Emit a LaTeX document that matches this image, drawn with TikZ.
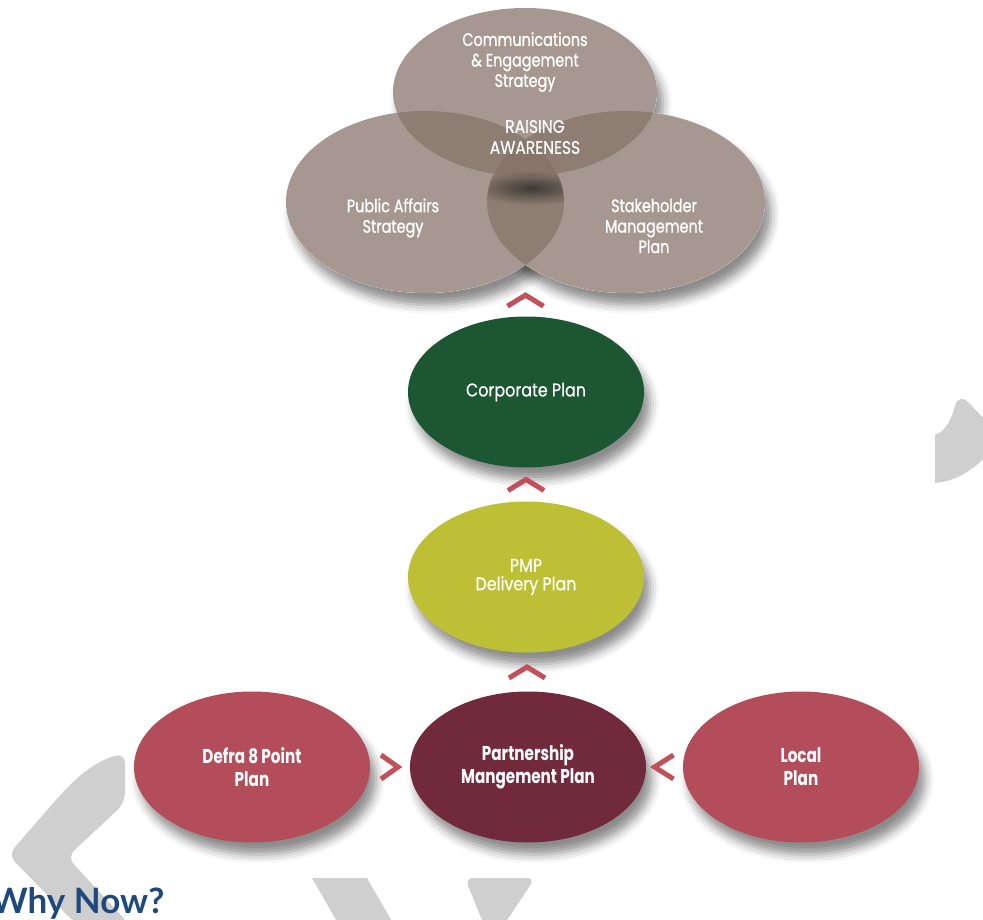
\documentclass[tikz,border=0pt]{standalone}
\usepackage{fontspec}
\setmainfont{Poppins}
\newfontfamily\condfont[FakeStretch=0.76]{Poppins}
\newfontfamily\triofont[FakeStretch=0.8, FakeBold=1]{Poppins}
\newfontfamily\midfont[FakeStretch=0.86, FakeBold=0.5]{Poppins}
\newfontfamily\headfont{Lato}
\usetikzlibrary{
    shapes.geometric,
    calc,
    shadows.blur,
    fadings
}
\definecolor{triobrown}{RGB}{133,115,104}
\definecolor{corpgreen}{RGB}{29,86,50}
\definecolor{pmpyellow}{RGB}{189,192,52}
\definecolor{defrared}{RGB}{178,77,89}
\definecolor{partnerred}{RGB}{113,42,60}
\definecolor{chevred}{RGB}{192,80,90}
\definecolor{backgray}{RGB}{207,207,207}
\definecolor{whyblue}{RGB}{31,73,125}
\tikzfading[name=softblob, inner color=transparent!0, outer color=transparent!100]

\begin{document}
\begin{tikzpicture}[x=1pt, y=-1pt,
        shade/.style={blur shadow={shadow xshift=6pt, shadow yshift=-12pt,
                      shadow blur radius=9pt, shadow opacity=45}},
        plan/.style={ellipse, minimum width=236pt, minimum height=151pt, inner sep=0pt,
                     text=white, align=center, shade},
        trio/.style={fill=triobrown, fill opacity=0.73},
        triotext/.style={text=white, align=center, inner sep=0pt,
                         font=\triofont\fontsize{18}{20.5}\selectfont},
        midtext/.style={font=\midfont\fontsize{18.5}{18.5}\selectfont},
        condtext/.style={font=\condfont\bfseries\fontsize{20}{23}\selectfont},
        chev/.style={chevred, line width=5pt, line join=miter},
    ]
        \useasboundingbox (0,0) rectangle (983,920);
        \clip (0,0) rectangle (983,920);

        % Background shapes
        \fill[backgray, rounded corners=10pt] (125,753) .. controls (100,760) and (85,770) .. (62,793)
            -- (8,855) -- (77,925) -- (130,925) -- (67,857) -- (125,803) -- cycle;
        \fill[backgray] (312,878) -- (367,878) -- (394,925) -- (339,925) -- cycle;
        \fill[backgray, rounded corners=8pt] (465,878) -- (535,878) -- (504,925) -- (484,925) -- cycle;
        \fill[backgray] (935,435) .. controls (948,430) and (952,416) .. (955,406)
            .. controls (957,398) and (963,397) .. (968,402) -- (990,425) -- (990,452)
            .. controls (972,472) and (955,481) .. (935,483) -- cycle;

        % Raising awareness
        \coordinate (comms) at (525,92);
        \coordinate (pubaff) at (425,202);
        \coordinate (stake) at (626,202);
        \fill[white, shade] (comms) ellipse (132 and 84);
        \fill[white, shade] (pubaff) ellipse (139 and 91);
        \fill[white, shade] (stake) ellipse (139 and 91);
        \fill[white] (comms) ellipse (132 and 84);
        \fill[white] (pubaff) ellipse (139 and 91);
        \fill[white] (stake) ellipse (139 and 91);
        \fill[trio] (comms) ellipse (132 and 84);
        \fill[trio] (pubaff) ellipse (139 and 91);
        \fill[trio] (stake) ellipse (139 and 91);
        \begin{scope}
            \clip (pubaff) ellipse (139 and 91);
            \clip (stake) ellipse (139 and 91);
            \fill[black, opacity=0.55, path fading=softblob] (532,188) ellipse (62 and 17);
        \end{scope}
        \node[triotext] (commstext) at (525,62) {Communications\\\& Engagement\\Strategy};
        \node[triotext, midtext, font=\midfont\fontsize{18}{21}\selectfont] (raise) at (535,137) {RAISING\\AWARENESS};
        \node[triotext] (pubafftext) at (393,218) {Public Affairs\\Strategy};
        \node[triotext] (staketext) at (654,226) {Stakeholder\\Management\\Plan};
        \coordinate (trio) at (525,284);

        % Plans
        \node[plan, fill=corpgreen, midtext] (corp) at (526,392) {Corporate Plan};
        \node[plan, fill=pmpyellow, midtext] (pmp) at (526,577) {PMP\\Delivery Plan};
        \node[plan, fill=defrared, condtext] (defra) at (252,767) {Defra 8 Point\\Plan};
        \node[plan, fill=partnerred, condtext] (partner) at (528,767) {Partnership\\Mangement Plan};
        \node[plan, fill=defrared, condtext] (local) at (801,767) {Local\\Plan};

        % Chevrons
        \draw[chev] ($(trio)!0.5!(corp.north)$) +(-18,6) -- +(0,-5) -- +(18,6);
        \draw[chev] ($(corp.south)!0.5!(pmp.north)$) +(-18,6) -- +(0,-5) -- +(18,6);
        \draw[chev] ($(pmp.south)!0.5!(partner.north)$) +(-18,6) -- +(0,-5) -- +(18,6);
        \draw[chev] ($(defra.east)!0.5!(partner.west)$) +(-9,-12) -- +(8,0) -- +(-9,12);
        \draw[chev] ($(partner.east)!0.5!(local.west)$) +(9,-12) -- +(-10,0) -- +(9,12);

        % Heading
        \node[anchor=base west, inner sep=0pt, text=whyblue,
              font=\headfont\bfseries\fontsize{35}{35}\selectfont] (why) at (-9,913) {Why Now?};
\end{tikzpicture}
\end{document}
